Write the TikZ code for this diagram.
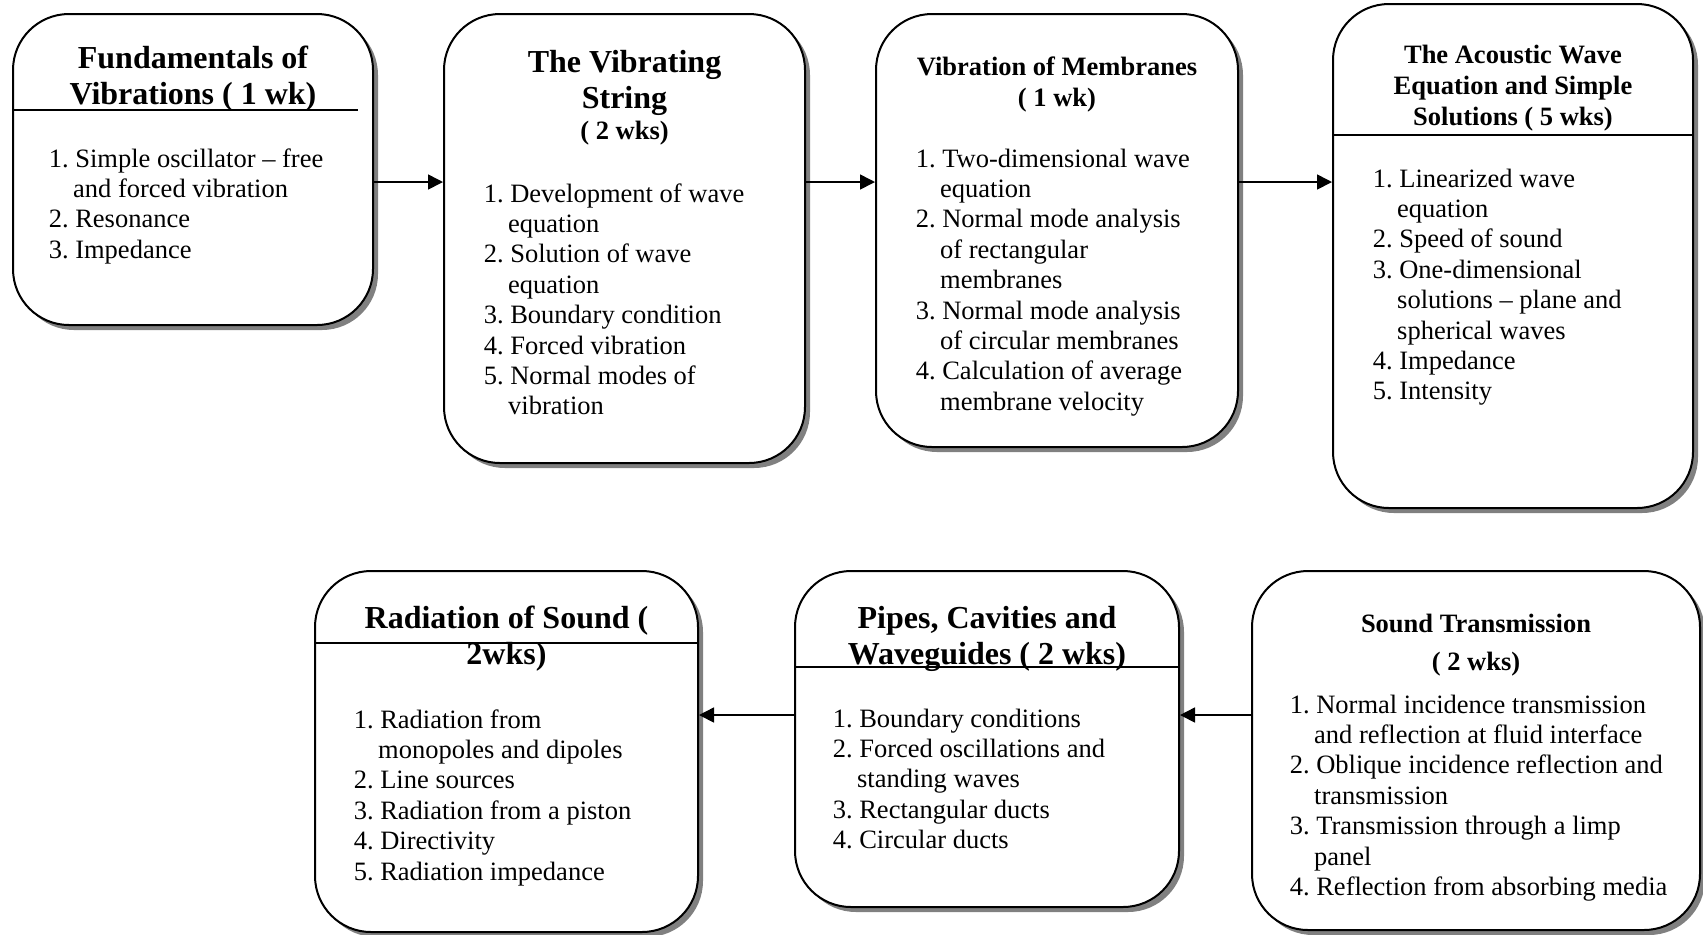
\documentclass[tikz,border=0pt]{standalone}
\usepackage{fontspec}
\setmainfont{Liberation Serif}
\usetikzlibrary{arrows.meta,positioning,shadows}
\frenchspacing
\newcommand{\hg}{\hspace*{0.92em}}

\begin{document}
\begin{tikzpicture}[>={Triangle[length=7.5pt,width=7.5pt]},x=0.5pt,y=-0.5pt,line width=0.8pt]
\tikzstyle{unit}=[draw,line width=1pt,rounded corners=28pt,fill=white,inner sep=0pt,drop shadow={shadow xshift=2.5pt,shadow yshift=-2.5pt,fill=black!50,opacity=1}]
\tikzstyle{bigttl}=[anchor=base,align=center,inner sep=0pt,font=\fontsize{16pt}{18pt}\selectfont\bfseries]
\tikzstyle{ttl}=[anchor=base,align=center,inner sep=0pt,font=\fontsize{13.25pt}{15.7pt}\selectfont\bfseries]
\tikzstyle{topics}=[anchor=base west,align=left,inner sep=0pt,font=\fontsize{13.25pt}{15.2pt}\selectfont]
\useasboundingbox (0,0) rectangle (1703,934);
% course units
\foreach \nm/\cx/\cy/\w/\h in {b1/193/169.5/180pt/155.5pt, b2/624.5/238.5/180.5pt/224.5pt, b3/1057/230.5/181pt/216.5pt, b4/1513/256/180pt/252pt, b5/506.5/751.5/191.5pt/180.5pt, b6/987/739/192pt/168pt, b7/1476/750.5/224pt/179.5pt}
  \node[unit,minimum width=\w,minimum height=\h] (\nm) at (\cx,\cy) {};
% header rules
\coordinate (h1) at (358,110);
\coordinate (h4) at (0,135);
\coordinate (h5) at (0,643);
\coordinate (h6) at (0,667);
\draw[line width=1pt] (b1.west |- h1) -- (h1);
\foreach \b/\h in {b4/h4, b5/h5, b6/h6}
  \draw[line width=1pt] (\b.west |- \h) -- (\b.east |- \h);
% titles (base = last line)
\node[bigttl] (t1) at (193,104) {Fundamentals of\\Vibrations ( 1 wk)};
\node[bigttl] (t2) at (624.5,139) {The Vibrating\\String\\[-2.5pt]{\fontsize{13.25pt}{15pt}\selectfont ( 2 wks)}};
\node[ttl] (t3) at (1057,106.4) {Vibration of Membranes\\( 1 wk)};
\node[ttl] (t4) at (1513,125.8) {The Acoustic Wave\\Equation and Simple\\Solutions ( 5 wks)};
\node[bigttl] (t5) at (506.5,664) {Radiation of Sound (\\2wks)};
\node[bigttl] (t6) at (987,664) {Pipes, Cavities and\\Waveguides ( 2 wks)};
\node[ttl] (t7) at (1476,670) {Sound Transmission\\[3.3pt]( 2 wks)};
% topic lists (base = last line)
\node[topics] (l1) at (48,258.2) {1. Simple oscillator – free\\\hg and forced vibration\\2. Resonance\\3. Impedance};
\node[topics] (l2) at (483,414.8) {1. Development of wave\\\hg equation\\2. Solution of wave\\\hg equation\\3. Boundary condition\\4. Forced vibration\\5. Normal modes of\\\hg vibration};
\node[topics] (l3) at (915,410.2) {1. Two-dimensional wave\\\hg equation\\2. Normal mode analysis\\\hg of rectangular\\\hg membranes\\3. Normal mode analysis\\\hg of circular membranes\\4. Calculation of average\\\hg membrane velocity};
\node[topics] (l4) at (1372,399.8) {1. Linearized wave\\\hg equation\\2. Speed of sound\\3. One-dimensional\\\hg solutions – plane and\\\hg spherical waves\\4. Impedance\\5. Intensity};
\node[topics] (l5) at (353,880) {1. Radiation from\\\hg monopoles and dipoles\\2. Line sources\\3. Radiation from a piston\\4. Directivity\\5. Radiation impedance};
\node[topics] (l6) at (832,848.6) {1. Boundary conditions\\2. Forced oscillations and\\\hg standing waves\\3. Rectangular ducts\\4. Circular ducts};
\node[topics] (l7) at (1289,895.4) {1. Normal incidence transmission\\\hg and reflection at fluid interface\\2. Oblique incidence reflection and\\\hg transmission\\3. Transmission through a limp\\\hg panel\\4. Reflection from absorbing media};
% flow
\coordinate (r1) at (0,182);
\coordinate (r2) at (0,715);
\foreach \a/\b in {b1/b2, b2/b3, b3/b4}
  \draw[->] (\a.east |- r1) -- (\b.west |- r1);
\foreach \a/\b in {b7/b6, b6/b5}
  \draw[->] (\a.west |- r2) -- (\b.east |- r2);
\end{tikzpicture}
\end{document}
